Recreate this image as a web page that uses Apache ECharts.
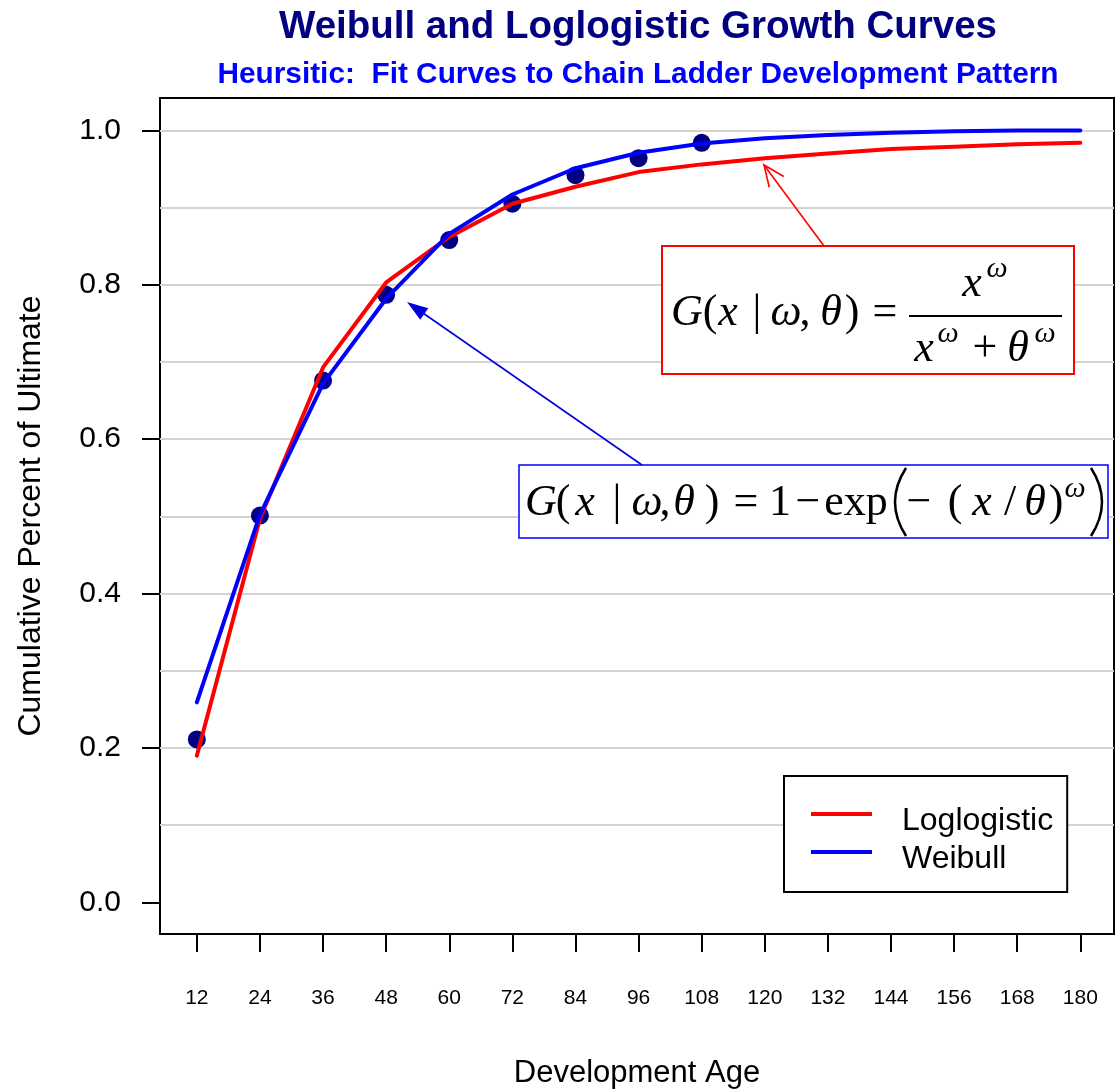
<!DOCTYPE html>
<html>
<head>
<meta charset="utf-8">
<script src="https://cdn.jsdelivr.net/npm/echarts@6/dist/echarts.min.js"></script>
<style>html,body{margin:0;padding:0;background:#fff}#c{width:1116px;height:1090px}</style>
</head>
<body>
<div id="c"></div>
<script>
// ---- data ----
const ages = [12, 24, 36, 48, 60, 72, 84, 96, 108, 120, 132, 144, 156, 168, 180];
const observedAges = [12, 24, 36, 48, 60, 72, 84, 96, 108];
const observed = [0.211, 0.501, 0.676, 0.787, 0.858, 0.905, 0.942, 0.964, 0.984];
const loglogistic = [0.190, 0.497, 0.693, 0.803, 0.862, 0.905, 0.927, 0.946, 0.956, 0.964, 0.970, 0.976, 0.979, 0.982, 0.984];
const weibull = [0.259, 0.502, 0.672, 0.782, 0.866, 0.917, 0.951, 0.971, 0.983, 0.990, 0.994, 0.997, 0.999, 1.000, 1.000];
const yTickValues = [0, 0.2, 0.4, 0.6, 0.8, 1.0];
const gridValues = [0.1, 0.2, 0.3, 0.4, 0.5, 0.6, 0.7, 0.8, 0.9, 1.0];
const seriesNames = ['Loglogistic', 'Weibull'];

const SANS = '"Liberation Sans", Arial, sans-serif';
const SERIF = '"Liberation Serif", "Times New Roman", serif';

// glyph placed by its centre x and its baseline y
function T(text, cx, base, size, italic) {
  return {
    type: 'text', z: 110,
    x: cx, y: base - 0.305 * size,
    style: {
      text: text,
      font: (italic ? 'italic ' : '') + size + 'px ' + SERIF,
      fill: '#000',
      align: 'center',
      verticalAlign: 'middle'
    }
  };
}
function arrowHead(x1, y1, x2, y2, len, half) {
  const dx = x2 - x1, dy = y2 - y1, L = Math.sqrt(dx * dx + dy * dy);
  const ux = dx / L, uy = dy / L;
  const bx = x2 - ux * len, by = y2 - uy * len;
  return [[bx - uy * half, by + ux * half], [x2, y2], [bx + uy * half, by - ux * half]];
}

const FS = 44, SUP = 30;
const rb = 327, bb = 517;
const graphics = [
  // red formula box
  { type: 'rect', z: 100, shape: { x: 662, y: 246, width: 412, height: 128 }, style: { fill: '#fff', stroke: '#ff0000', lineWidth: 2 } },
  T('G', 687, rb, FS, true), T('(', 710, rb, FS), T('x', 728, rb, FS, true), T('|', 757, rb, FS),
  T('ω', 786, rb, FS, true), T(',', 805, rb, FS), T('θ', 831, rb, FS, true), T(')', 852, rb, FS),
  T('=', 885, rb, FS),
  T('x', 972, 298, FS, true), T('ω', 997, 278, SUP, true),
  { type: 'line', z: 110, shape: { x1: 909, y1: 316, x2: 1062, y2: 316 }, style: { stroke: '#000', lineWidth: 2 } },
  T('x', 924, 363, FS, true), T('ω', 948, 343, SUP, true), T('+', 985, 363, FS),
  T('θ', 1018, 363, FS, true), T('ω', 1045, 343, SUP, true),
  // blue formula box
  { type: 'rect', z: 100, shape: { x: 519, y: 465, width: 589, height: 73 }, style: { fill: '#fff', stroke: '#0000ff', lineWidth: 1.5 } },
  T('G', 541, bb, FS, true), T('(', 563, bb, FS), T('x', 585, bb, FS, true), T('|', 617, bb, FS),
  T('ω', 647, bb, FS, true), T(',', 665, bb, FS), T('θ', 684, bb, FS, true), T(')', 712, bb, FS),
  T('=', 746, bb, FS), T('1', 780, bb, FS), T('−', 808, bb, FS), T('exp', 856, bb, FS),
  { type: 'bezierCurve', z: 110, shape: { x1: 906, y1: 468, x2: 906, y2: 536, cpx1: 884, cpy1: 502 }, style: { stroke: '#000', lineWidth: 2.5, fill: null } },
  T('−', 919, bb, FS), T('(', 955, bb, FS), T('x', 982, bb, FS, true), T('/', 1010, bb, FS),
  T('θ', 1035, bb, FS, true), T(')', 1056, bb, FS), T('ω', 1075, 498, SUP, true),
  { type: 'bezierCurve', z: 110, shape: { x1: 1091, y1: 468, x2: 1091, y2: 536, cpx1: 1113, cpy1: 502 }, style: { stroke: '#000', lineWidth: 2.5, fill: null } },
  // blue arrow (filled head)
  { type: 'line', z: 100, shape: { x1: 642, y1: 465, x2: 415, y2: 307.5 }, style: { stroke: '#0000dd', lineWidth: 1.6 } },
  { type: 'polygon', z: 100, shape: { points: arrowHead(642, 465, 407, 302, 21, 7) }, style: { fill: '#0000dd' } },
  // red arrow (open head)
  { type: 'line', z: 100, shape: { x1: 824, y1: 246, x2: 764, y2: 165 }, style: { stroke: '#ff0000', lineWidth: 1.6 } },
  { type: 'polyline', z: 100, shape: { points: arrowHead(824, 246, 764, 165, 21, 9) }, style: { stroke: '#ff0000', lineWidth: 1.6, fill: null } }
];

// legend icon: a 61x4 bar sitting 7px above the row centre
const legendIcon = 'path://M0,0H61V4H0Z M30,17.99H30.01V18H30Z';

const chart = echarts.init(document.getElementById('c'), null, { renderer: 'canvas' });
chart.setOption({
  animation: false,
  backgroundColor: '#fff',
  title: {
    text: 'Weibull and Loglogistic Growth Curves',
    subtext: 'Heursitic:  Fit Curves to Chain Ladder Development Pattern',
    left: 638, top: 8, textAlign: 'center', padding: 0, itemGap: 13,
    textStyle: { fontFamily: SANS, fontSize: 38.5, fontWeight: 'bold', color: '#000080' },
    subtextStyle: { fontFamily: SANS, fontSize: 29.8, fontWeight: 'bold', color: '#0000ff' }
  },
  legend: {
    data: [
      { name: seriesNames[0], itemStyle: { color: '#ff0000' } },
      { name: seriesNames[1], itemStyle: { color: '#0000ff' } }
    ],
    orient: 'vertical', left: 784, top: 776,
    padding: [29, 14, 17, 27], itemGap: 6,
    itemWidth: 61, itemHeight: 18, icon: legendIcon,
    backgroundColor: '#fff', borderColor: '#000', borderWidth: 2,
    textStyle: { fontFamily: SANS, fontSize: 32, color: '#000', padding: [0, 0, 0, 25] }
  },
  grid: {
    left: 160, top: 98, right: 2, bottom: 156, outerBoundsMode: 'none', containLabel: false,
    show: true, borderColor: '#000', borderWidth: 2, backgroundColor: 'transparent'
  },
  xAxis: {
    type: 'value', min: 5.0, max: 186.4,
    name: 'Development Age', nameLocation: 'middle', nameGap: 124,
    nameTextStyle: { fontFamily: SANS, fontSize: 31, color: '#000' },
    axisLine: { show: true, onZero: false, lineStyle: { color: '#000', width: 2 } },
    axisTick: { show: true, length: 18, customValues: ages, lineStyle: { color: '#000', width: 2 } },
    axisLabel: { customValues: ages, margin: 54, fontFamily: SANS, fontSize: 21, color: '#000' },
    splitLine: { show: false }
  },
  yAxis: {
    type: 'value', min: -0.041, max: 1.042,
    name: 'Cumulative Percent of Ultimate', nameLocation: 'middle', nameGap: 113,
    nameTextStyle: { fontFamily: SANS, fontSize: 32, color: '#000' },
    axisLine: { show: true, onZero: false, lineStyle: { color: '#000', width: 2 } },
    axisTick: { show: true, length: 18, customValues: yTickValues, lineStyle: { color: '#000', width: 2 } },
    axisLabel: { customValues: yTickValues, margin: 39, fontFamily: SANS, fontSize: 30, color: '#000', formatter: v => v.toFixed(1) },
    splitLine: { show: false }
  },
  series: [
    {
      name: 'Observed', type: 'scatter', z: 2,
      symbol: 'circle', symbolSize: 18,
      itemStyle: { color: '#000080', opacity: 1 },
      data: observedAges.map((a, i) => [a, observed[i]]),
      markLine: {
        z: 1, silent: true, symbol: 'none', label: { show: false },
        lineStyle: { color: '#d3d3d3', width: 2, type: 'solid' },
        data: gridValues.map(v => ({ yAxis: v }))
      }
    },
    {
      name: seriesNames[0], type: 'line', z: 3, showSymbol: false, symbol: 'none',
      lineStyle: { color: '#ff0000', width: 4, cap: 'round', join: 'round' },
      itemStyle: { color: '#ff0000' },
      data: ages.map((a, i) => [a, loglogistic[i]])
    },
    {
      name: seriesNames[1], type: 'line', z: 3, showSymbol: false, symbol: 'none',
      lineStyle: { color: '#0000ff', width: 4, cap: 'round', join: 'round' },
      itemStyle: { color: '#0000ff' },
      data: ages.map((a, i) => [a, weibull[i]])
    }
  ],
  graphic: { elements: graphics }
});
</script>
</body>
</html>
